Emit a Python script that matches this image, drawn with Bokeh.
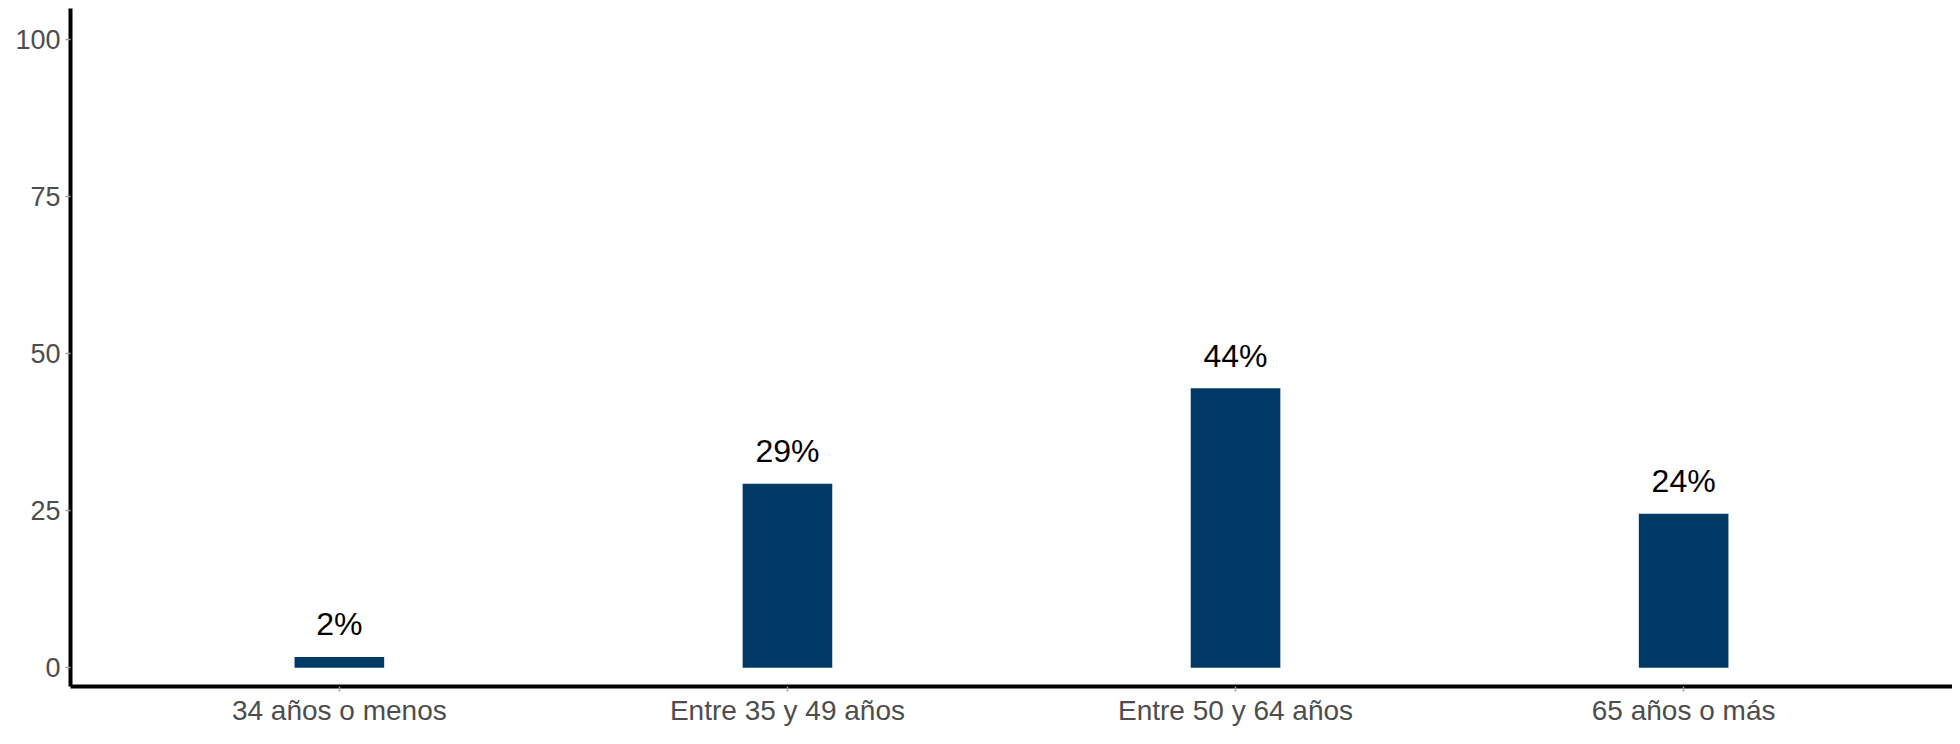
from bokeh.plotting import figure
from bokeh.models import Range1d, FixedTicker, ColumnDataSource
from bokeh.core.properties import value
from bokeh.embed import file_html
from bokeh.resources import INLINE

categories = ["34 años o menos", "Entre 35 y 49 años", "Entre 50 y 64 años", "65 años o más"]
values = [1.7, 29.3, 44.5, 24.5]
labels = ["2%", "29%", "44%", "24%"]
y_ticks = [0, 25, 50, 75, 100]

xs = list(range(1, len(categories) + 1))
src = ColumnDataSource(dict(x=xs, top=values, label=labels,
                            ly=[v + 5.2 for v in values]))

p = figure(width=1952, height=728, output_backend="svg", toolbar_location=None,
           x_range=Range1d(0.4, len(categories) + 0.6), y_range=Range1d(-3, 105),
           min_border_left=70, min_border_right=0, min_border_top=8, min_border_bottom=33)

p.vbar(x="x", top="top", bottom=0, width=0.2, source=src, fill_color="#003B67", line_color=None)
p.text(x="x", y="ly", text="label", source=src, text_align="center", text_baseline="middle",
       text_font=value("Liberation Sans"), text_font_size="32px", text_color="black")

p.xgrid.visible = False
p.ygrid.visible = False
p.outline_line_color = None
p.background_fill_color = "white"
p.border_fill_color = "white"

p.xaxis.ticker = FixedTicker(ticks=xs)
p.xaxis.major_label_overrides = {x: c for x, c in zip(xs, categories)}
p.yaxis.ticker = FixedTicker(ticks=y_ticks)

for ax in (p.xaxis[0], p.yaxis[0]):
    ax.axis_line_color = "black"
    ax.axis_line_width = 4
    ax.major_tick_line_color = "#a0a0a0"
    ax.major_tick_line_width = 1.5
    ax.major_tick_in = 0
    ax.major_tick_out = 5
    ax.minor_tick_line_color = None
    ax.major_label_text_font = "Liberation Sans"
    ax.major_label_text_color = "#4d4d4d"

p.xaxis.major_label_text_font_size = "28px"
p.xaxis.major_label_standoff = 3
p.yaxis.major_label_text_font_size = "27px"
p.yaxis.major_label_standoff = 5

open("out.html", "w").write(file_html(p, INLINE))
